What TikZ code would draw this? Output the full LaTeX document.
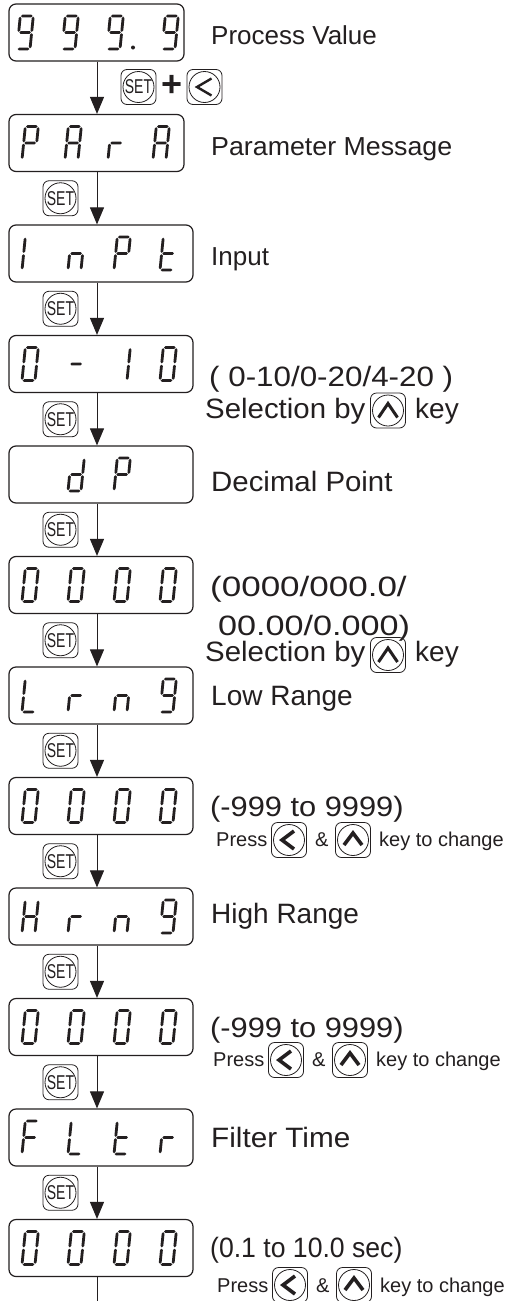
\documentclass[tikz,border=0pt]{standalone}
\usepackage{graphicx}
\usepackage{fontspec}
\setmainfont{Liberation Sans}
\usetikzlibrary{arrows.meta,calc}
\definecolor{ink}{RGB}{35,31,32}
\newcommand\fsz[1]{\fontsize{#1}{#1}\selectfont}
\newcommand\hsc[2]{\scalebox{#1}[1]{#2}}
% seven segment pieces (local coords, y up)
\newcommand\myhseg[3]{\fill[ink] (#1,#3) -- (#1+1.4,#3+1.4) -- (#2-1.4,#3+1.4) -- (#2,#3) -- (#2-1.4,#3-1.4) -- (#1+1.4,#3-1.4) -- cycle;}
\newcommand\myvseg[3]{\fill[ink] (#1,#2) -- (#1+1.4,#2+1.4) -- (#1+1.4,#3-1.4) -- (#1,#3) -- (#1-1.4,#3-1.4) -- (#1-1.4,#2+1.4) -- cycle;}
\newcommand\sga{\myhseg{0.7}{12.3}{33}}
\newcommand\sgg{\myhseg{0.7}{12.3}{16.5}}
\newcommand\sgd{\myhseg{0.7}{12.3}{0}}
\newcommand\sgf{\myvseg{0}{17.2}{32.3}}
\newcommand\sge{\myvseg{0}{0.7}{15.8}}
\newcommand\sgb{\myvseg{13}{17.2}{32.3}}
\newcommand\sgc{\myvseg{13}{0.7}{15.8}}
\newcommand\sevd[3]{\begin{scope}[shift={(#1,#2+1)},xslant=0.1,yscale=-1]\foreach \q in {#3}{\csname sg\q\endcsname}\end{scope}}
\newcommand\mkkey[2]{\node[keyframe] (#1) at (#2) {}; \node[keyring] (#1r) at (#1) {};}
\newcommand\setkey[2]{\mkkey{#1}{#2}\node[inner sep=0,text=ink,font=\fsz{20}] (#1t) at (#1) {\hsc{0.7}{SET}};}
\newcommand\leftkey[2]{\mkkey{#1}{#2}\draw[chev,shift={(#1)}] (5,-9) -- (-7,0) -- (5,9);}
\newcommand\upkey[2]{\mkkey{#1}{#2}\draw[chev,shift={(#1)}] (-9,5) -- (0,-7) -- (9,5);}
\begin{document}
\begin{tikzpicture}[x=1pt,y=-1pt,
  disp/.style={draw=ink,line width=1.2pt,rounded corners=7pt,minimum height=57pt,inner sep=0},
  keyframe/.style={draw=ink,line width=0.8pt,rounded corners=6pt,minimum width=35pt,minimum height=35pt,inner sep=0},
  keyring/.style={draw=ink,circle,line width=0.8pt,minimum size=31pt,inner sep=0},
  arr/.style={draw=ink,line width=1pt,-{Triangle[length=17pt,width=14pt]}},
  plain/.style={draw=ink,line width=1pt},
  lbl/.style={anchor=base west,inner sep=0,text=ink},
  chev/.style={draw=ink,line width=3.6pt,line join=miter,line cap=butt},
  thinchev/.style={draw=ink,line width=2.4pt,line join=miter,line cap=butt},
]
\useasboundingbox (0,0) rectangle (513,1301);
\fill[white] (0,0) rectangle (513,1301);
\coordinate (ax) at (97,0);
% display boxes
\node[disp,minimum width=175pt] (b1) at (96.5,32.5) {};
\node[disp,minimum width=175pt] (b2) at (96.5,143) {};
\node[disp,minimum width=184pt] (b3) at (101,253.5) {};
\node[disp,minimum width=184pt] (b4) at (101,364) {};
\node[disp,minimum width=184pt] (b5) at (101,474.5) {};
\node[disp,minimum width=184pt] (b6) at (101,585) {};
\node[disp,minimum width=184pt] (b7) at (101,695.5) {};
\node[disp,minimum width=184pt] (b8) at (101,806) {};
\node[disp,minimum width=184pt] (b9) at (101,916.5) {};
\node[disp,minimum width=184pt] (b10) at (101,1027) {};
\node[disp,minimum width=184pt] (b11) at (101,1137.5) {};
\node[disp,minimum width=184pt] (b12) at (101,1248) {};
% digits
\sevd{17}{48}{a,b,c,d,f,g}\sevd{62}{48}{a,b,c,d,f,g}\sevd{107}{48}{a,b,c,d,f,g}\sevd{162}{48}{a,b,c,d,f,g}
\fill[ink] (133,47.5) circle (2);
\sevd{22}{158.5}{a,b,e,f,g}\sevd{65}{158.5}{a,b,c,e,f,g}\sevd{108}{158.5}{e,g}\sevd{153}{158.5}{a,b,c,e,f,g}
\sevd{22}{269}{e,f}\sevd{68}{269}{c,e,g}\sevd{114}{269}{a,b,e,f,g}\sevd{160}{269}{d,e,f,g}
\sevd{22}{379.5}{a,b,c,d,e,f}\sevd{68}{379.5}{g}\sevd{114}{379.5}{b,c}\sevd{160}{379.5}{a,b,c,d,e,f}
\sevd{68}{490}{b,c,d,e,g}\sevd{114}{490}{a,b,e,f,g}
\foreach \yy in {600.5,821.5,1042.5,1263.5}{\sevd{22}{\yy}{a,b,c,d,e,f}\sevd{68}{\yy}{a,b,c,d,e,f}\sevd{114}{\yy}{a,b,c,d,e,f}\sevd{160}{\yy}{a,b,c,d,e,f}}
\sevd{22}{711}{d,e,f}\sevd{68}{711}{e,g}\sevd{114}{711}{c,e,g}\sevd{160}{711}{a,b,c,d,f,g}
\sevd{22}{932}{b,c,e,f,g}\sevd{68}{932}{e,g}\sevd{114}{932}{c,e,g}\sevd{160}{932}{a,b,c,d,f,g}
\sevd{22}{1153}{a,e,f,g}\sevd{68}{1153}{d,e,f}\sevd{114}{1153}{d,e,f,g}\sevd{160}{1153}{e,g}
% connectors
\draw[arr] (b1.south -| ax) -- (b2.north -| ax);
\draw[arr] (b2.south -| ax) -- (b3.north -| ax);
\draw[arr] (b3.south -| ax) -- (b4.north -| ax);
\draw[arr] (b4.south -| ax) -- (b5.north -| ax);
\draw[arr] (b5.south -| ax) -- (b6.north -| ax);
\draw[arr] (b6.south -| ax) -- (b7.north -| ax);
\draw[arr] (b7.south -| ax) -- (b8.north -| ax);
\draw[arr] (b8.south -| ax) -- (b9.north -| ax);
\draw[arr] (b9.south -| ax) -- (b10.north -| ax);
\draw[arr] (b10.south -| ax) -- (b11.north -| ax);
\draw[arr] (b11.south -| ax) -- (b12.north -| ax);
\coordinate (bend) at (97,1302);
\draw[plain] (b12.south -| ax) -- (bend);
% keys
\setkey{s1}{138.5,87}
\node[inner sep=0,text=ink,font=\fsz{36}\bfseries] (plus) at (172,86) {+};
\mkkey{l1}{204.5,87}\draw[thinchev,shift={(l1)}] (7,-8.5) -- (-7.5,0) -- (7,8.5);
\setkey{s2}{60.5,198.25}
\setkey{s3}{60.5,308.75}
\setkey{s4}{60.5,419.25}
\setkey{s5}{60.5,529.75}
\setkey{s6}{60.5,640.25}
\setkey{s7}{60.5,750.75}
\setkey{s8}{60.5,861.25}
\setkey{s9}{60.5,971.75}
\setkey{s10}{60.5,1082.25}
\setkey{s11}{60.5,1192.75}
% labels
\node[lbl,font=\fsz{26}] (t1) at (211,44.3) {Process Value};
\node[lbl,font=\fsz{26}] (t2) at (211,155.3) {\hsc{1.03}{Parameter Message}};
\node[lbl,font=\fsz{26}] (t3) at (211,265.3) {Input};
\node[lbl,font=\fsz{28}] (t4a) at (209,386) {\hsc{1.12}{( 0-10/0-20/4-20 )}};
\node[lbl,font=\fsz{28}] (t4b) at (205,418) {\hsc{1.05}{Selection by}};
\mkkey{u4}{388,410.5}\draw[thinchev,line width=3pt,shift={(u4)}] (-9.5,7) -- (0,-7) -- (9.5,7);
\node[lbl,font=\fsz{28}] (t4c) at (415,418) {key};
\node[lbl,font=\fsz{28}] (t5) at (211,491) {\hsc{1.05}{Decimal Point}};
\node[lbl,font=\fsz{28}] (t6a) at (210,596) {\hsc{1.25}{(0000/000.0/}};
\node[lbl,font=\fsz{28}] (t6b) at (218,635) {\hsc{1.22}{00.00/0.000)}};
\node[lbl,font=\fsz{28}] (t6c) at (205,661) {\hsc{1.05}{Selection by}};
\mkkey{u6}{388,655}\draw[thinchev,line width=3pt,shift={(u6)}] (-9.5,7) -- (0,-7) -- (9.5,7);
\node[lbl,font=\fsz{28}] (t6d) at (415,661) {key};
\node[lbl,font=\fsz{28}] (t7) at (211,705) {Low Range};
\node[lbl,font=\fsz{28}] (t8a) at (210,816) {\hsc{1.1}{(-999 to 9999)}};
\node[lbl,font=\fsz{20}] (t8b) at (216,846) {Press};
\leftkey{l8}{289,840}
\node[lbl,font=\fsz{20}] (t8c) at (315,846) {\&};
\upkey{u8}{353,840}
\node[lbl,font=\fsz{20}] (t8d) at (379,846) {key to change};
\node[lbl,font=\fsz{28}] (t9) at (211,923) {High Range};
\node[lbl,font=\fsz{28}] (t10a) at (210,1037) {\hsc{1.1}{(-999 to 9999)}};
\node[lbl,font=\fsz{20}] (t10b) at (213,1066) {Press};
\leftkey{l10}{286,1060}
\node[lbl,font=\fsz{20}] (t10c) at (312,1066) {\&};
\upkey{u10}{350,1060}
\node[lbl,font=\fsz{20}] (t10d) at (376,1066) {key to change};
\node[lbl,font=\fsz{28}] (t11) at (211,1147) {\hsc{1.06}{Filter Time}};
\node[lbl,font=\fsz{28}] (t12a) at (210,1257) {\hsc{0.95}{(0.1 to 10.0 sec)}};
\node[lbl,font=\fsz{20}] (t12b) at (217,1292) {Press};
\leftkey{l12}{290,1285}
\node[lbl,font=\fsz{20}] (t12c) at (316,1292) {\&};
\upkey{u12}{354,1285}
\node[lbl,font=\fsz{20}] (t12d) at (380,1292) {key to change};
\end{tikzpicture}
\end{document}
